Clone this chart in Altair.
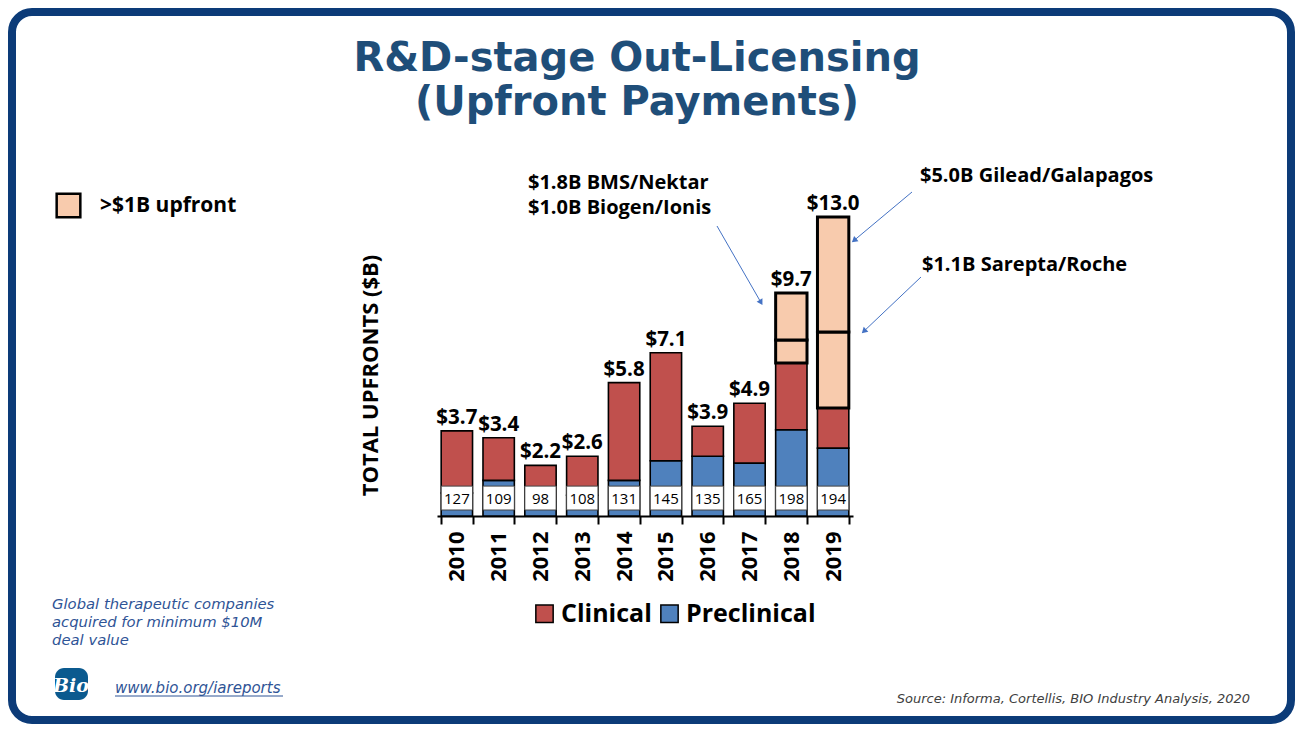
import math
import pandas as pd
import altair as alt

# ---------------- data ----------------
years = ["2010", "2011", "2012", "2013", "2014", "2015", "2016", "2017", "2018", "2019"]
preclinical = [1.0, 1.55, 0.62, 0.9, 1.55, 2.4, 2.6, 2.3, 3.75, 2.95]
clinical = [2.7, 1.85, 1.58, 1.7, 4.25, 4.7, 1.3, 2.6, 2.9, 1.75]
totals = [3.7, 3.4, 2.2, 2.6, 5.8, 7.1, 3.9, 4.9, 9.7, 13.0]
counts = [127, 109, 98, 108, 131, 145, 135, 165, 198, 194]
deal_years = ["2018", "2018", "2019", "2019"]
deal_values = [1.0, 2.05, 3.3, 5.0]
stages = ["Clinical", "Preclinical"]
big_label = ">$1B upfront"

title_lines = ["R&D-stage Out-Licensing", "(Upfront Payments)"]
annot_bms = ["$1.8B BMS/Nektar", "$1.0B Biogen/Ionis"]
annot_gilead = "$5.0B Gilead/Galapagos"
annot_sarepta = "$1.1B Sarepta/Roche"
footnote_lines = ["Global therapeutic companies", "acquired for minimum $10M", "deal value"]
link_text = "www.bio.org/iareports"
source_text = "Source: Informa, Cortellis, BIO Industry Analysis, 2020"
y_title = "TOTAL UPFRONTS ($B)"

# ---------------- styling ----------------
RED = "#C0504D"
BLUE = "#4F81BD"
PEACH = "#F8CBAD"
NAVY = "#0C3B78"
TITLE_C = "#1F4E79"
NOTE_C = "#2F5496"
ARROW_C = "#4472C4"
FONT = "Open Sans"

OX, OY = 437, 194  # page position of plot origin


def px(x):
    return x - OX


def py(y):
    return y - OY


# ---------------- tables ----------------
rows = []
for i, yr in enumerate(years):
    rows.append(dict(year=yr, stage="Preclinical", y0=0.0, y1=preclinical[i]))
    rows.append(dict(year=yr, stage="Clinical", y0=preclinical[i], y1=preclinical[i] + clinical[i]))
df_stage = pd.DataFrame(rows)

base = {yr: preclinical[i] + clinical[i] for i, yr in enumerate(years)}
drows = []
for yr, v in zip(deal_years, deal_values):
    drows.append(dict(year=yr, kind=big_label, y0=base[yr], y1=base[yr] + v))
    base[yr] += v
df_deals = pd.DataFrame(drows)

df_year = pd.DataFrame({"year": years, "count": [str(c) for c in counts],
                        "total": totals, "label": ["$" + f"{t:.1f}" for t in totals]})
one = pd.DataFrame({"k": [0]})

x_enc = alt.X("year:N", title=None,
              scale=alt.Scale(domain=years, paddingInner=0.25, paddingOuter=0.1))
y_scale = alt.Scale(domain=[0, 14], nice=False, zero=True)

# ---------------- layers ----------------
frame = alt.Chart(one).mark_rect(fill="transparent", stroke=NAVY, strokeWidth=8, cornerRadius=20).encode(
    x=alt.value(px(12)), x2=alt.value(px(1291)), y=alt.value(py(12)), y2=alt.value(py(720)))

bars = alt.Chart(df_stage).mark_bar(stroke="black", strokeWidth=1.6).encode(
    x=x_enc,
    y=alt.Y("y0:Q", scale=y_scale, title=y_title),
    y2="y1:Q",
    color=alt.Color("stage:N", scale=alt.Scale(domain=stages, range=[RED, BLUE]),
                    legend=alt.Legend(orient="none", legendX=95, legendY=407, direction="horizontal",
                                      title=None, symbolType="square", symbolSize=300,
                                      symbolStrokeColor="black", symbolStrokeWidth=1.5,
                                      labelFont=FONT, labelFontWeight="bold", labelFontSize=25,
                                      labelColor="black", columnPadding=5, labelOffset=4, padding=0)),
)

deals = alt.Chart(df_deals).mark_bar(stroke="black", strokeWidth=3).encode(
    x=x_enc,
    y=alt.Y("y0:Q", scale=y_scale, title=y_title),
    y2="y1:Q",
    color=alt.Color("kind:N", scale=alt.Scale(domain=[big_label], range=[PEACH]),
                    legend=alt.Legend(orient="none", legendX=-382, legendY=-2, title=None,
                                      symbolType="square", symbolSize=560,
                                      symbolStrokeColor="black", symbolStrokeWidth=2.5,
                                      labelFont=FONT, labelFontWeight="bold", labelFontSize=21,
                                      labelColor="black", labelOffset=18, padding=0)),
)

boxes = alt.Chart(df_year).mark_bar(fill="white", stroke="#444444", strokeWidth=1).encode(
    x=x_enc, y=alt.YDatum(0.26, scale=y_scale), y2=alt.Y2Datum(1.3))

count_text = alt.Chart(df_year).mark_text(font=FONT, fontSize=15, color="black", baseline="middle").encode(
    x=x_enc, y=alt.YDatum(0.76, scale=y_scale), text="count:N")

value_text = alt.Chart(df_year).mark_text(font=FONT, fontSize=20.5, fontWeight="bold", color="black",
                                          baseline="alphabetic", dy=-7).encode(
    x=x_enc, y=alt.Y("total:Q", scale=y_scale, title=y_title), text="label:N")


def txt(text, x, y, size, color="black", weight="bold", font=FONT, align="left", style="normal"):
    return alt.Chart(one).mark_text(font=font, fontSize=size, fontWeight=weight, color=color,
                                    align=align, baseline="alphabetic", fontStyle=style).encode(
        x=alt.value(px(x)), y=alt.value(py(y)), text=alt.value(text))


def arrow(x1, y1, x2, y2):
    dx, dy = x2 - x1, y2 - y1
    L = math.hypot(dx, dy)
    ux, uy = dx / L, dy / L
    ang = (math.degrees(math.atan2(dx, -dy)) + 360) % 360
    line = alt.Chart(one).mark_rule(color=ARROW_C, strokeWidth=1).encode(
        x=alt.value(px(x1)), y=alt.value(py(y1)),
        x2=alt.value(px(x2 - ux * 4)), y2=alt.value(py(y2 - uy * 4)))
    head = alt.Chart(one).mark_point(shape="triangle-up", filled=True, color=ARROW_C, size=45,
                                     angle=ang, opacity=1).encode(
        x=alt.value(px(x2 - ux * 4)), y=alt.value(py(y2 - uy * 4)))
    return [line, head]


decor = []
decor.append(txt(title_lines[0], 637, 71, 40, color=TITLE_C, font="DejaVu Sans", align="center"))
decor.append(txt(title_lines[1], 637, 115, 40, color=TITLE_C, font="DejaVu Sans", align="center"))
decor.append(txt(annot_bms[0], 528, 189, 20))
decor.append(txt(annot_bms[1], 528, 214, 20))
decor.append(txt(annot_gilead, 920, 182, 20))
decor.append(txt(annot_sarepta, 922, 271, 20))
decor += arrow(717, 226, 763, 306)
decor += arrow(912, 192, 851, 243)
decor += arrow(921, 277, 861, 334)
for i, line in enumerate(footnote_lines):
    decor.append(txt(line, 52, 609 + 18 * i, 14.8, color=NOTE_C, weight="normal", font="DejaVu Sans",
                     style="italic"))
decor.append(txt(link_text, 115, 693, 15, color=NOTE_C, weight="normal", font="DejaVu Sans",
                 style="italic"))
decor.append(alt.Chart(one).mark_rule(color=NOTE_C, strokeWidth=1).encode(
    x=alt.value(px(115)), x2=alt.value(px(283)), y=alt.value(py(696)), y2=alt.value(py(696))))
decor.append(txt(source_text, 1250, 703, 13, color="#404040", weight="normal", font="DejaVu Sans",
                 style="italic", align="right"))
decor.append(alt.Chart(one).mark_rect(fill="#0B5A8F", cornerRadius=9).encode(
    x=alt.value(px(55)), x2=alt.value(px(88)), y=alt.value(py(668)), y2=alt.value(py(700))))
decor.append(txt("Bio", 71, 692, 19, color="white", font="DejaVu Serif", style="italic", align="center"))

chart = alt.layer(frame, bars, deals, boxes, count_text, value_text, *decor).resolve_scale(
    color="independent"
).properties(
    width=416, height=322,
    autosize=alt.AutoSizeParams(type="none"),
    padding={"left": 429, "top": 186, "right": 442, "bottom": 208},
).configure_view(strokeWidth=0).configure_axisX(
    labelFont=FONT, labelFontWeight="bold", labelFontSize=22, labelColor="black", labelAngle=270,
    labelAlign="right", labelBaseline="middle", labelPadding=7,
    tickBand="extent", tickSize=8, tickWidth=2, tickColor="black",
    domainColor="black", domainWidth=2, grid=False,
).configure_axisY(
    labels=False, ticks=False, domain=False, grid=False,
    titleFont=FONT, titleFontWeight="bold", titleFontSize=22, titleColor="black",
    titleAngle=270, titleAlign="center", titleBaseline="middle", titleX=-67, titleY=181,
)

chart.save("out.html", embed_options={"renderer": "svg", "actions": False})
